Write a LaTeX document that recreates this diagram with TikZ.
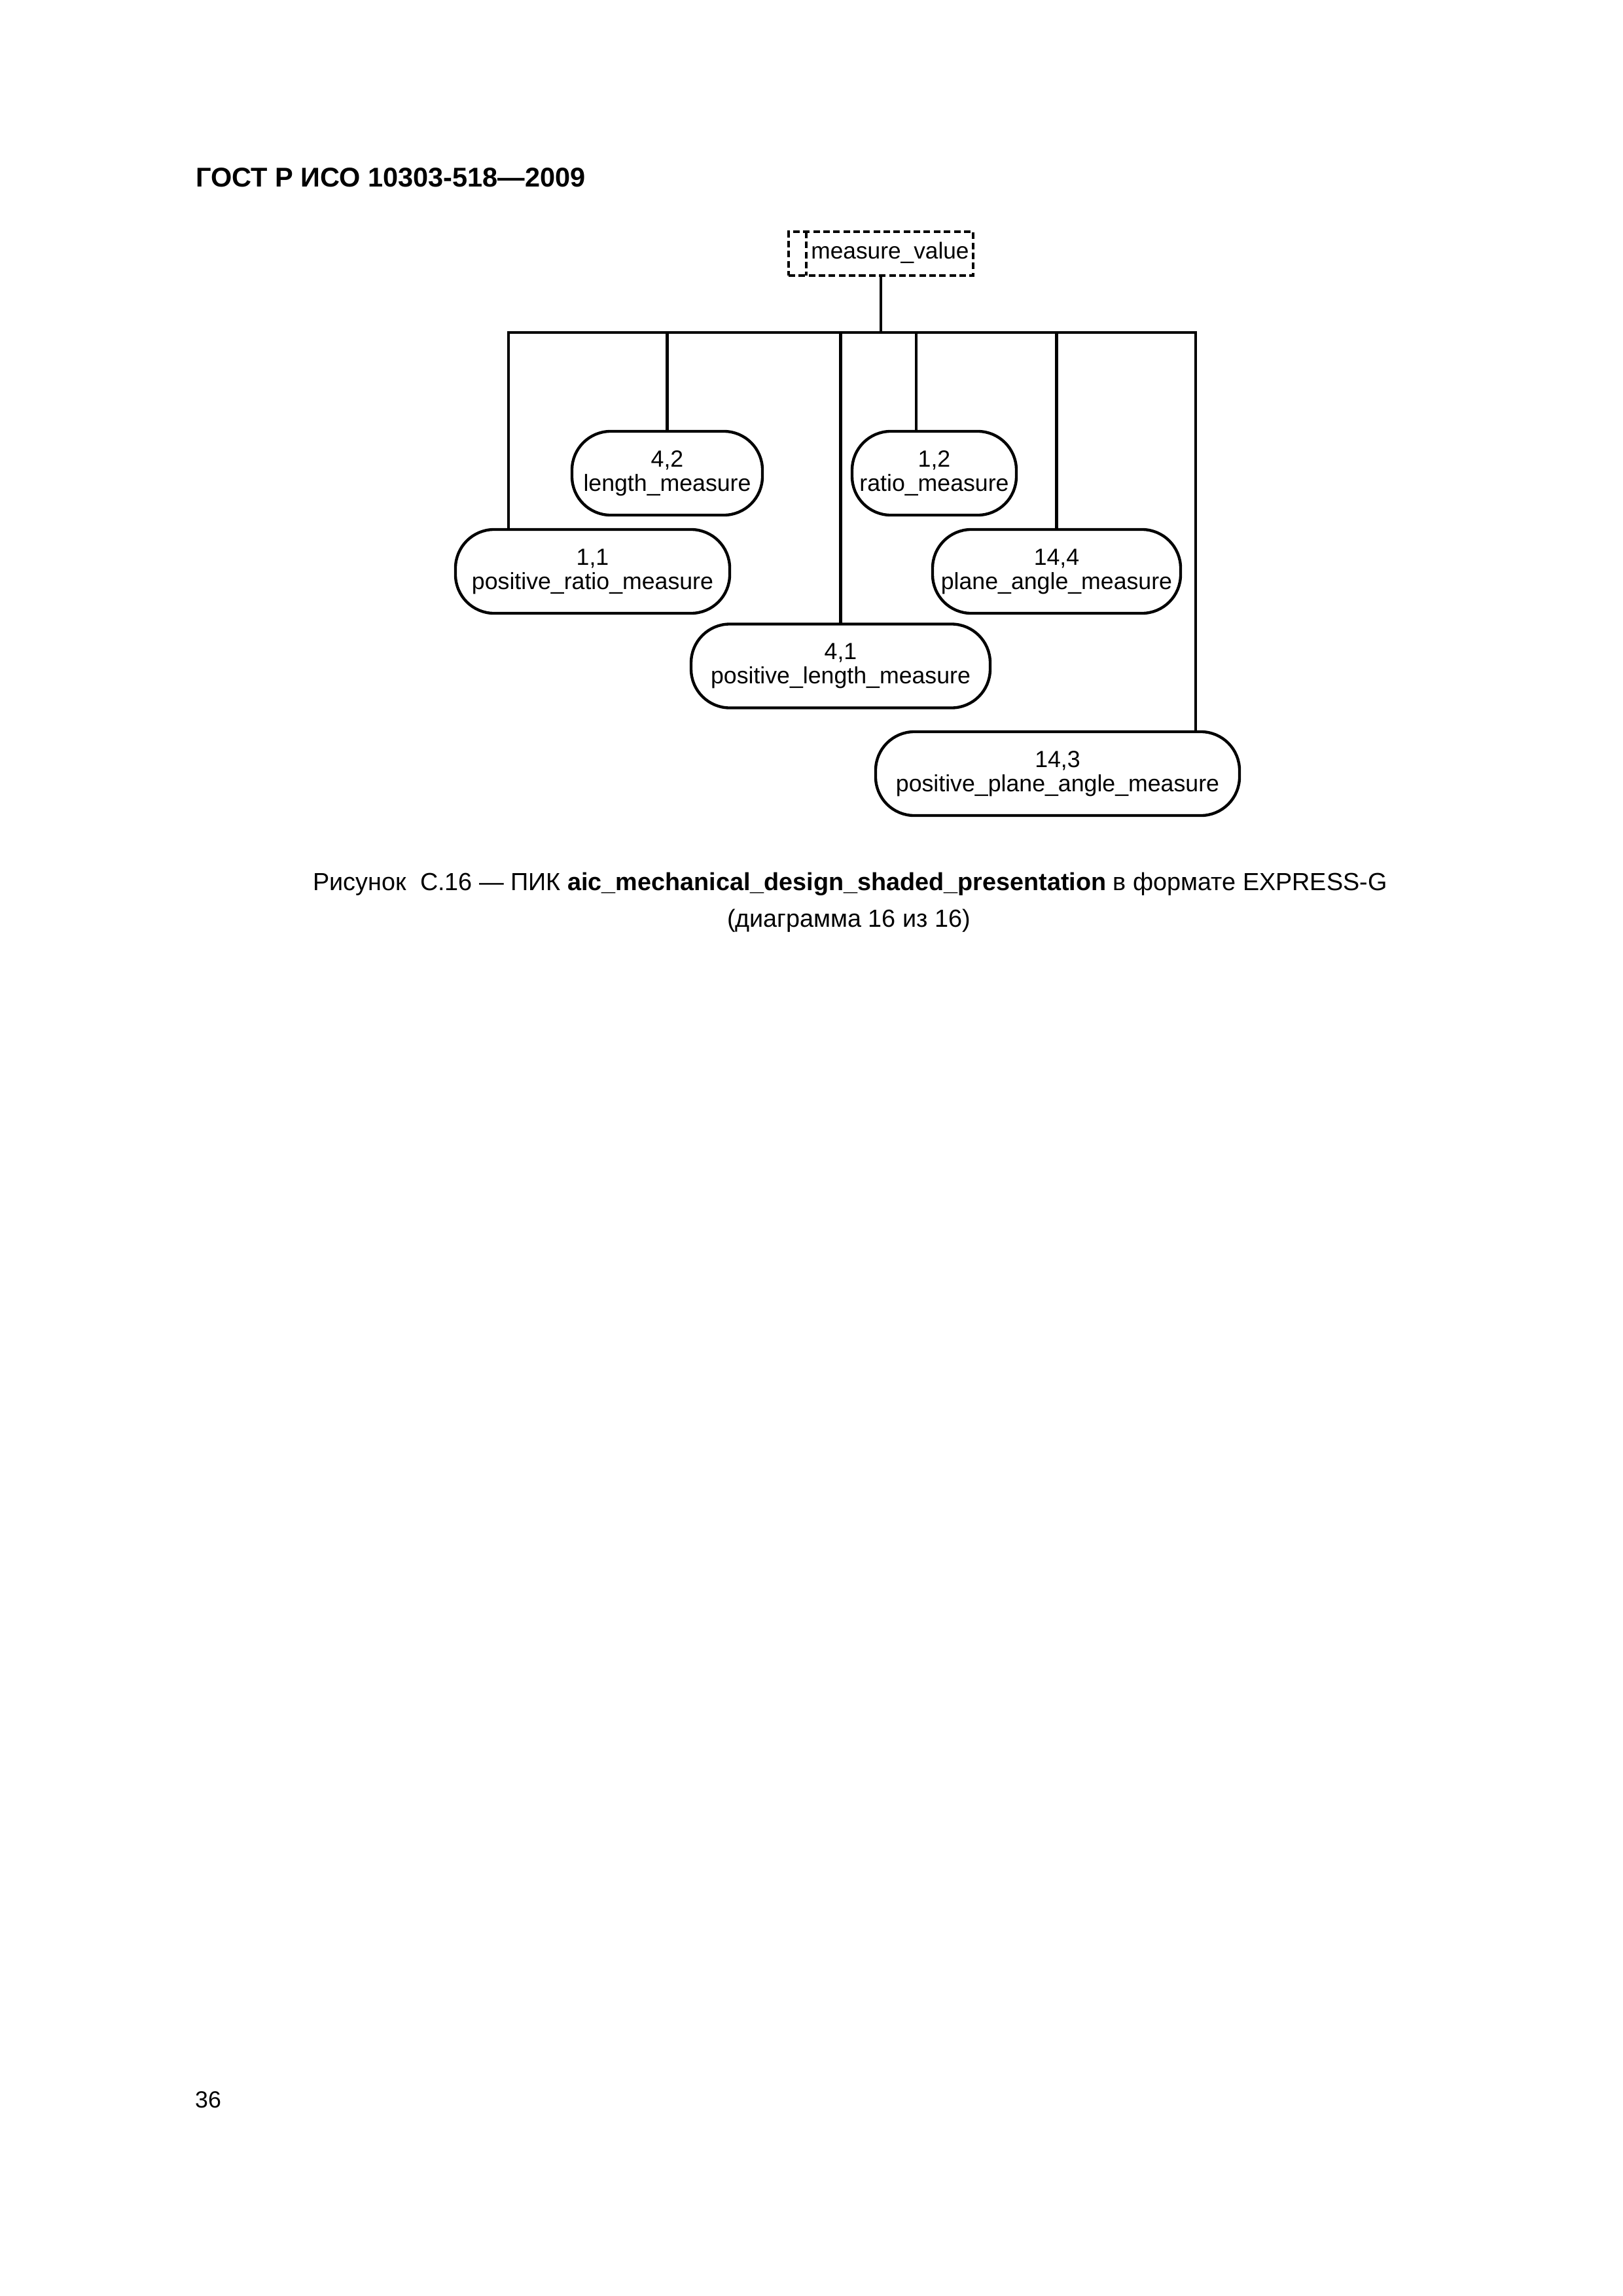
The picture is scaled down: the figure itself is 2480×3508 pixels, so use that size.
\documentclass[tikz,border=0pt]{standalone}
\usepackage{fontspec}
\setmainfont{Liberation Sans}
\begin{document}
\begin{tikzpicture}[x=0.084667mm,y=-0.084667mm,
  line width=1.05pt,
  ebox/.style={draw, rounded corners=5.0mm, minimum height=10.84mm, inner sep=0pt, outer sep=0pt,
    align=center, font=\fontsize{8.6}{8.9}\selectfont},
  tbox/.style={draw, dash pattern=on 0.85mm off 0.45mm, inner sep=0pt, outer sep=0pt},
  conn/.style={line join=miter}]
\path[use as bounding box, fill=white] (0,0) rectangle (2480,3508);

% header and page number
\node[anchor=base west, inner sep=0pt, font=\fontsize{10}{12}\selectfont\bfseries] (hdr) at (297,285) {ГОСТ Р ИСО 10303-518—2009};
\node[anchor=base west, inner sep=0pt, font=\fontsize{8.6}{10}\selectfont] (pg) at (296,3220) {36};

% type box measure_value
\node[tbox, minimum width=23.88mm, minimum height=5.67mm] (mv) at (1346,387.5) {};
\draw[dash pattern=on 0.85mm off 0.45mm] (mv.north west) ++(27,0) coordinate (mvi) -- (mvi |- mv.south);
\node[inner sep=0pt, font=\fontsize{8.5}{8.9}\selectfont, anchor=base] (mvt) at (1360,395) {measure\_value};

% entity boxes
\node[ebox, minimum width=24.64mm] (lm)   at (1019.5,723)  {4,2\\length\_measure};
\node[ebox, minimum width=21.25mm] (rm)   at (1427.5,723)  {1,2\\ratio\_measure};
\node[ebox, minimum width=35.48mm] (prm)  at (905.5,873)   {1,1\\positive\_ratio\_measure};
\node[ebox, minimum width=32.09mm] (pam)  at (1614.5,873)  {14,4\\plane\_angle\_measure};
\node[ebox, minimum width=38.69mm] (plm)  at (1284.5,1017.5) {4,1\\positive\_length\_measure};
\node[ebox, minimum width=47.08mm] (ppam) at (1616,1182)   {14,3\\positive\_plane\_angle\_measure};

% bus coordinates
\coordinate (bl) at (777,508);
\coordinate (br) at (1827,508);
\coordinate (rd) at (1400,508);

\draw[conn] (prm.north -| bl) -- (bl) -- (br) -- (ppam.north -| br);
\draw (mv.south) -- (mv.south |- bl);
\draw (lm.north) -- (lm.north |- bl);
\draw (rd) -- (rm.north -| rd);
\draw (plm.north) -- (plm.north |- bl);
\draw (pam.north) -- (pam.north |- bl);

% caption
\node[anchor=base, inner sep=0pt, font=\fontsize{9.1}{10}\selectfont] (cap1) at (1299,1360)
  {Рисунок\ \ С.16 — ПИК \textbf{aic\_mechanical\_design\_shaded\_presentation} в формате EXPRESS-G};
\node[anchor=base, inner sep=0pt, font=\fontsize{9.1}{10}\selectfont] (cap2) at (1297,1416)
  {(диаграмма 16 из 16)};
\end{tikzpicture}
\end{document}
